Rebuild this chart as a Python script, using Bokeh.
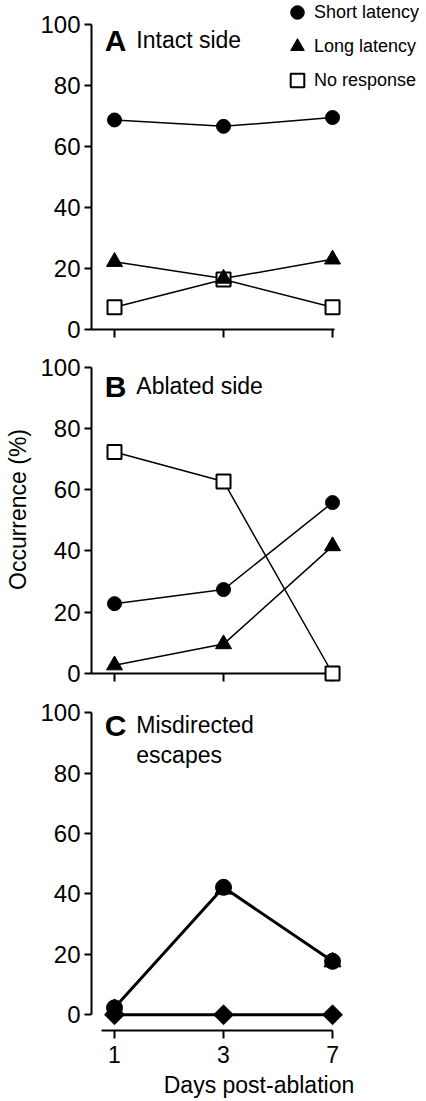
import numpy as np
from bokeh.plotting import figure
from bokeh.layouts import column
from bokeh.models import Range1d, FixedTicker, Label, Legend, LegendItem
from bokeh.embed import file_html
from bokeh.resources import INLINE

# ---------------- data ----------------
days = ["1", "3", "7"]
x_idx = [0, 1, 2]
y_ticks = [0, 20, 40, 60, 80, 100]

intact_short = [68.7, 66.6, 69.5]
intact_long = [22.2, 16.7, 23.0]
intact_none = [7.3, 16.4, 7.3]

ablated_short = [22.8, 27.4, 55.8]
ablated_long = [2.7, 9.6, 41.6]
ablated_none = [72.3, 62.7, 0.0]

misdir_short = [2.3, 42.2, 17.7]
misdir_long = [2.0, 41.6, 17.5]
misdir_none = [0.0, 0.0, 0.0]

FONT = "Liberation Sans"
W = 426
X_RANGE = (-0.211, 2.862)


def make_panel(height, y_start, y_end, border_bottom, x_bounds, show_xlabels):
    p = figure(width=W, height=height,
               x_range=Range1d(*X_RANGE), y_range=Range1d(y_start, y_end),
               output_backend="svg", toolbar_location=None,
               min_border_left=91, min_border_right=0, min_border_top=0,
               min_border_bottom=border_bottom)
    p.grid.visible = False
    p.outline_line_color = None
    p.background_fill_color = "white"
    p.border_fill_color = "white"

    yax = p.yaxis[0]
    yax.ticker = FixedTicker(ticks=y_ticks)
    yax.bounds = (0, 100)
    yax.axis_line_width = 2
    yax.major_tick_line_width = 2
    yax.major_tick_out = 7
    yax.major_tick_in = 0
    yax.minor_tick_line_color = None
    yax.major_label_text_font = FONT
    yax.major_label_text_font_size = "24px"
    yax.major_label_text_color = "black"
    yax.major_label_standoff = 4

    xax = p.xaxis[0]
    xax.ticker = FixedTicker(ticks=x_idx)
    if show_xlabels:
        xax.major_label_overrides = {i: d for i, d in zip(x_idx, days)}
    else:
        xax.major_label_overrides = {i: "" for i in x_idx}
    xax.bounds = x_bounds
    xax.axis_line_width = 2
    xax.major_tick_line_width = 2
    xax.major_tick_out = 8
    xax.major_tick_in = 0
    xax.minor_tick_line_color = None
    xax.major_label_text_font = FONT
    xax.major_label_text_font_size = "23px"
    xax.major_label_text_color = "black"
    xax.major_label_standoff = 7
    return p


def panel_label(p, y, letter, lines, dy=9.9):
    p.add_layout(Label(x=-0.09, y=y, text=letter, text_font=FONT,
                       text_font_size="30px", text_font_style="bold",
                       text_baseline="alphabetic", text_color="black"))
    for k, t in enumerate(lines):
        p.add_layout(Label(x=0.2, y=y - k * dy, text=t, text_font=FONT,
                           text_font_size="23px", text_baseline="alphabetic",
                           text_color="black"))


def draw_series(p, short, long_, none, lw, level="overlay"):
    p.line(x_idx, none, line_color="black", line_width=lw, level=level)
    p.line(x_idx, long_, line_color="black", line_width=lw, level=level)
    p.line(x_idx, short, line_color="black", line_width=lw, level=level)
    r_none = p.scatter(x_idx, none, marker="square", size=14, fill_color="white",
                       line_color="black", line_width=2, level=level)
    r_long = p.scatter(x_idx, long_, marker="triangle", size=16, fill_color="black",
                       line_color="black", level=level)
    r_short = p.scatter(x_idx, short, marker="circle", size=14, fill_color="black",
                        line_color="black", level=level)
    return r_short, r_long, r_none


# ---------------- Panel A ----------------
pA = make_panel(345, 0, 107.87, 16, (-0.27, 2.02), False)
rs, rl, rn = draw_series(pA, intact_short, intact_long, intact_none, 1.5)
panel_label(pA, 94.8, "A", ["Intact side"])
legend = Legend(items=[LegendItem(label="Short latency", renderers=[rs]),
                       LegendItem(label="Long latency", renderers=[rl]),
                       LegendItem(label="No response", renderers=[rn])],
                location=(189, 232), glyph_width=34, glyph_height=34,
                label_standoff=0, spacing=0, padding=0, margin=0,
                border_line_color=None, background_fill_alpha=0,
                label_text_font=FONT, label_text_font_size="18px",
                label_text_color="black")
pA.add_layout(legend)

# ---------------- Panel B ----------------
pB = make_panel(344, 0, 107.08, 16, (-0.27, 2.02), False)
draw_series(pB, ablated_short, ablated_long, ablated_none, 1.5)
panel_label(pB, 93.7, "B", ["Ablated side"])
pB.yaxis[0].axis_label = "Occurrence (%)"
pB.yaxis[0].axis_label_text_font = FONT
pB.yaxis[0].axis_label_text_font_size = "23px"
pB.yaxis[0].axis_label_text_font_style = "normal"
pB.yaxis[0].axis_label_text_color = "black"
pB.yaxis[0].axis_label_standoff = 6

# ---------------- Panel C ----------------
pC = make_panel(411, -5.2, 107.7, 70, (-0.12, 2.0), True)
pC.line(x_idx, misdir_none, line_color="black", line_width=3)
pC.line(x_idx, misdir_short, line_color="black", line_width=3)
pC.scatter(x_idx, misdir_none, marker="square", angle=np.pi / 4, size=14,
           fill_color="black", line_color="black")
pC.scatter(x_idx, misdir_long, marker="triangle", size=17,
           fill_color="black", line_color="black")
pC.scatter(x_idx, misdir_short, marker="circle", size=16,
           fill_color="black", line_color="black")
panel_label(pC, 95.8, "C", ["Misdirected", "escapes"])
pC.xaxis[0].axis_label = "Days post-ablation"
pC.xaxis[0].axis_label_text_font = FONT
pC.xaxis[0].axis_label_text_font_size = "23px"
pC.xaxis[0].axis_label_text_font_style = "normal"
pC.xaxis[0].axis_label_text_color = "black"
pC.xaxis[0].axis_label_standoff = 6

layout = column(pA, pB, pC, spacing=0)

open("out.html", "w").write(file_html(layout, INLINE))
